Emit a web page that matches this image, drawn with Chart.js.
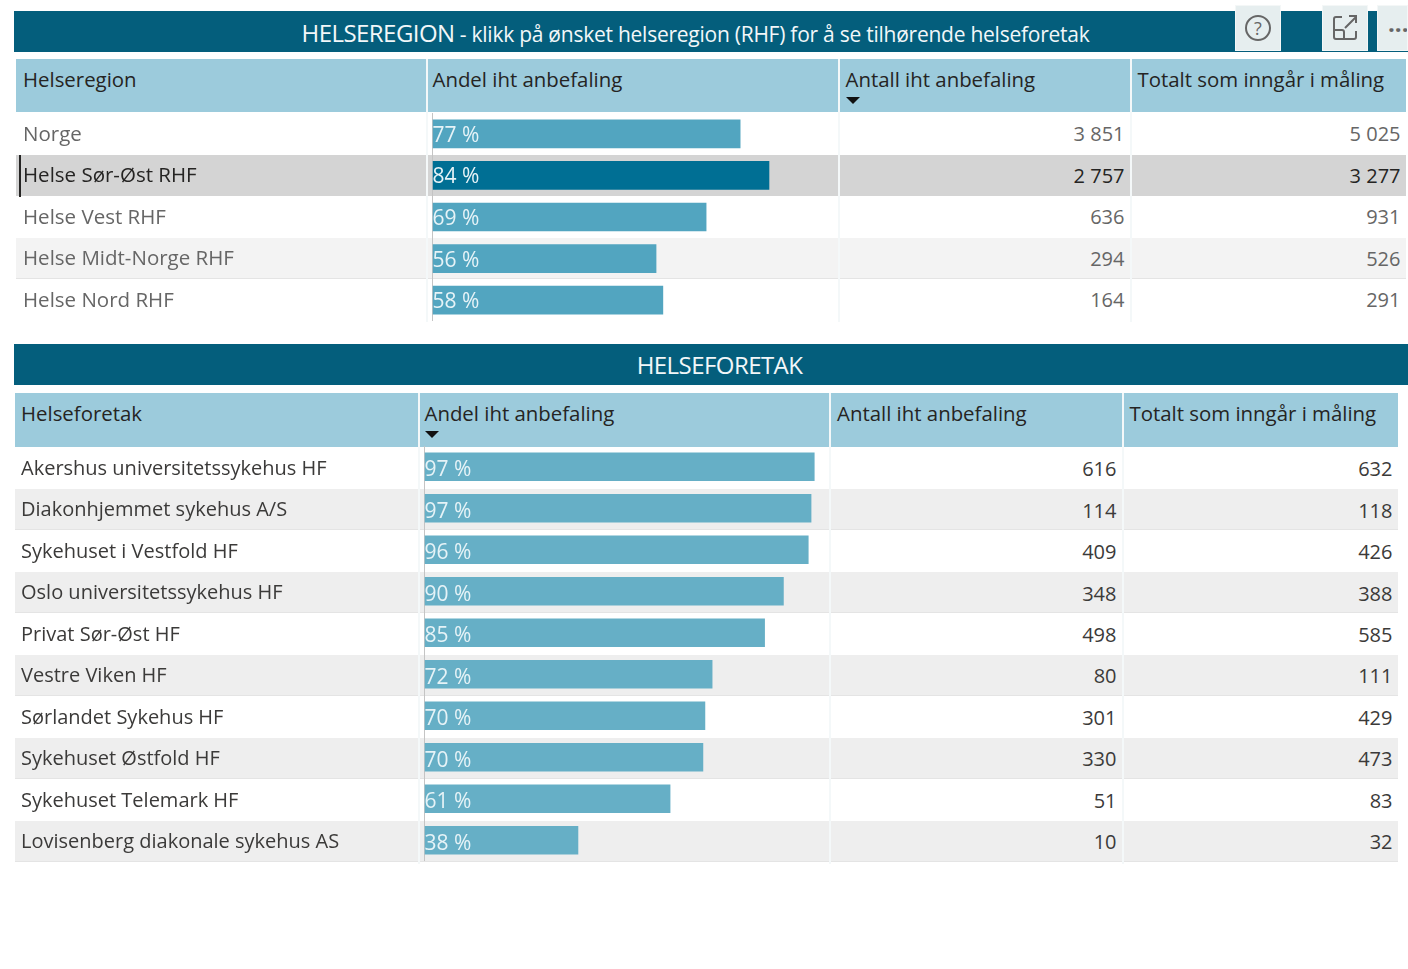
<!DOCTYPE html>
<html lang="no"><head><meta charset="utf-8"><title>Helseregion</title>
<script src="https://cdn.jsdelivr.net/npm/chart.js@4"></script>
<style>
html{margin:0;padding:0;background:#fff}
body{margin:0;padding:0;width:1408px;height:969px;overflow:hidden;position:relative;z-index:0;font-family:"Open Sans",sans-serif;font-size:20px;color:#252423}
.a{position:absolute;white-space:nowrap}
.bar{background:#045e7c;color:#f2f7f9;text-align:center;box-sizing:border-box}
.hd{background:#9ccbdc}
.sep{background:#f4f8f9;width:2px}
.num{text-align:right;line-height:24px;height:24px}
.btn{background:#e6eeef;border:1px solid #f4f7f7;box-sizing:border-box;display:flex;align-items:center;justify-content:center}
.arrow{width:0;height:0;border-left:7px solid transparent;border-right:7px solid transparent;border-top:7px solid #111}
canvas{position:absolute;display:block}
</style></head><body>
<script>
const regionHeaders=["Helseregion","Andel iht anbefaling","Antall iht anbefaling","Totalt som inngår i måling"];
const regions=["Norge","Helse Sør-Øst RHF","Helse Vest RHF","Helse Midt-Norge RHF","Helse Nord RHF"];
const regionShare=[76.9,84.1,68.4,55.9,57.6];
const regionShareLabels=["77 %","84 %","69 %","56 %","58 %"];
const regionCount=["3 851","2 757","636","294","164"];
const regionTotal=["5 025","3 277","931","526","291"];
const selectedRegion=1;
const trustHeaders=["Helseforetak","Andel iht anbefaling","Antall iht anbefaling","Totalt som inngår i måling"];
const trusts=["Akershus universitetssykehus HF","Diakonhjemmet sykehus A/S","Sykehuset i Vestfold HF","Oslo universitetssykehus HF","Privat Sør-Øst HF","Vestre Viken HF","Sørlandet Sykehus HF","Sykehuset Østfold HF","Sykehuset Telemark HF","Lovisenberg diakonale sykehus AS"];
const trustShare=[97.4,96.6,95.9,89.7,85.0,71.9,70.1,69.6,61.4,38.4];
const trustShareLabels=["97 %","97 %","96 %","90 %","85 %","72 %","70 %","70 %","61 %","38 %"];
const trustCount=["616","114","409","348","498","80","301","330","51","10"];
const trustTotal=["632","118","426","388","585","111","429","473","83","32"];

const FONT='"Open Sans",sans-serif';
function el(cls,css,txt){const d=document.createElement('div');d.className='a '+cls;d.style.cssText=css;if(txt!=null)d.textContent=txt;document.body.appendChild(d);return d;}

function titleBar(top,html,cx,lh){
  el('bar',`left:14px;top:${top}px;width:1394px;height:41px`);
  const t=el('',`top:${top}px;left:${cx-600}px;width:1200px;text-align:center;line-height:${lh}px;height:41px;color:#f2f7f9`);
  t.innerHTML=html;
}
titleBar(11,'<span style="font-size:24px;letter-spacing:-.55px">HELSEREGION</span> <span style="font-size:21px;letter-spacing:-.25px">- klikk på ønsket helseregion (RHF) for å se tilhørende helseforetak</span>',695.5,43);
titleBar(344,'<span style="font-size:24px;letter-spacing:-.55px">HELSEFORETAK</span>',719.5,41);

function table(o){
  const {left,right,top,headTop,headH,cols,txt,n,pitch}=o;
  el('hd',`left:${left}px;top:${headTop}px;width:${right-left}px;height:${headH}px`);
  o.cat.forEach((c,i)=>{
    const y=top+i*pitch;
    const bg=i===o.selected?'#d4d4d4':(o.stripe(i)?o.stripeColor:'#ffffff');
    const col=i===o.selected?'#252423':o.color;
    el('',`left:${left}px;top:${y}px;width:${right-left}px;height:${pitch-0.5}px;background:${bg}`);
    if(o.stripe(i)) el('',`left:${left}px;top:${y+pitch-1.5}px;width:${right-left}px;height:1px;background:#e4e4e4`);
    el('num',`left:${o.numR[0]-200}px;width:200px;top:${y+pitch/2-12+o.numShift}px;color:${col}`,o.count[i]);
    el('num',`left:${o.numR[1]-200}px;width:200px;top:${y+pitch/2-12+o.numShift}px;color:${col}`,o.total[i]);
  });
  cols.forEach(c=>el('sep',`left:${c-1}px;top:${headTop}px;height:${headH+n*pitch+2}px`));
  o.headers.forEach((h,i)=>el('',`left:${txt[i]}px;top:${headTop+6}px;line-height:28px;color:#252423;font-size:20.4px`,h));
  el('arrow',`left:${txt[o.sortCol]}px;top:${headTop+38}px`);
  if(o.selected!=null) el('',`left:${left+3}px;top:${top+o.selected*pitch}px;width:2px;height:${pitch}px;background:#252423`);
  const cv=document.createElement('canvas');
  const chartTop=top-o.barShift;
  const W=Math.ceil(o.axisX+400-left),H=Math.round(n*pitch);
  cv.width=W;cv.height=H;cv.style.cssText=`left:${left}px;top:${chartTop}px;width:${W}px;height:${H}px`;
  document.body.appendChild(cv);
  const labelPlugin={id:'vals',afterDatasetsDraw(ch){
    const c=ch.ctx,m=ch.getDatasetMeta(0),x0=ch.scales.x.getPixelForValue(0);
    c.save();c.font=`21px ${FONT}`;c.fillStyle='#e6f3f7';c.textAlign='left';c.textBaseline='middle';
    m.data.forEach((b,i)=>c.fillText(o.labels[i],x0,b.y+1+o.barShift+o.numShift));c.restore();
  }};
  new Chart(cv,{type:'bar',plugins:[labelPlugin],
    data:{labels:o.cat,datasets:[{data:o.val,
      backgroundColor:o.cat.map((_,i)=>i===o.selected?'#006f94':o.barColor),
      categoryPercentage:1,barPercentage:0.69,borderWidth:0}]},
    options:{indexAxis:'y',responsive:false,animation:false,
      layout:{padding:{left:txt[0]-left,right:0,top:0,bottom:0}},
      plugins:{legend:{display:false},tooltip:{enabled:false},title:{display:false}},
      scales:{
        x:{display:false,min:0,max:100},
        y:{position:'left',offset:true,
          afterFit(s){s.width=o.axisX-txt[0];s.paddingTop=0;s.paddingBottom=0;},
          grid:{display:false,drawTicks:false},
          border:{display:true,color:'#c4c4c4',width:1},
          ticks:{crossAlign:'far',padding:0,autoSkip:false,labelOffset:o.barShift+o.numShift,
            color:c=>c.index===o.selected?'#252423':o.color,
            font:{family:'"Open Sans",sans-serif',size:o.catSize}}
        }}}});
}
table({left:16,right:1406,headTop:59,headH:53,top:113.5,pitch:41.5,n:5,cols:[426.5,838.5,1131],txt:[23,432.5,845.5,1137.5],
  headers:regionHeaders,cat:regions,val:regionShare,labels:regionShareLabels,count:regionCount,total:regionTotal,catSize:20.5,barShift:1,numShift:0,
  numR:[1124.5,1400.5],axisX:432.5,selected:selectedRegion,stripe:i=>i===3,stripeColor:'#f3f3f3',color:'#666666',barColor:'#52a5c0',sortCol:2});
table({left:15,right:1398,headTop:393,headH:54,top:447.5,pitch:41.45,n:10,cols:[418.5,830,1123],txt:[21,424.5,837,1129.5],
  headers:trustHeaders,cat:trusts,val:trustShare,labels:trustShareLabels,count:trustCount,total:trustTotal,catSize:20,barShift:1.5,numShift:1,
  numR:[1116.5,1392.5],axisX:424.5,selected:null,stripe:i=>i%2===1,stripeColor:'#eeeeee',color:'#3b3a39',barColor:'#66afc6',sortCol:1});

const Q='<svg width="30" height="30" viewBox="0 0 30 30"><circle cx="15" cy="15" r="12" fill="none" stroke="#666" stroke-width="2"/><text x="15" y="22" text-anchor="middle" font-family="Open Sans" font-size="18" fill="#666">?</text></svg>';
const E='<svg width="28" height="30" viewBox="0 0 28 30" fill="none" stroke="#666" stroke-width="2"><path d="M11 4H5a2 2 0 0 0-2 2v18a2 2 0 0 0 2 2h18a2 2 0 0 0 2-2v-6"/><path d="M3 17h8a2 2 0 0 1 2 2v7"/><path d="M14 15L25 4M18 3h7v7"/></svg>';
el('btn','left:1235px;top:5px;width:46px;height:46px').innerHTML=Q;
el('btn','left:1322px;top:5px;width:46px;height:46px').innerHTML=E;
const d=el('btn','left:1377px;top:5px;width:31px;height:46px;color:#666;font-size:24px;font-weight:700;padding-left:10px;overflow:hidden;justify-content:flex-start');d.textContent='···';
</script>
</body></html>
